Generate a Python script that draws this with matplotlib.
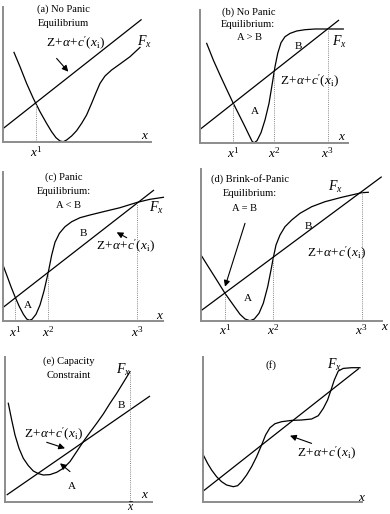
import matplotlib
matplotlib.use('Agg')
import matplotlib.pyplot as plt
import numpy as np

plt.rcParams['font.family'] = ['Liberation Serif', 'DejaVu Serif']
plt.rcParams['mathtext.fontset'] = 'custom'
plt.rcParams['mathtext.rm'] = 'Liberation Serif'
plt.rcParams['mathtext.it'] = 'Liberation Serif:italic'
plt.rcParams['mathtext.bf'] = 'Liberation Serif:bold'

# ---------------- data (schematic units) ----------------
# panel (a)
a_line_x = [0, 138.3]
a_line_y = [13.3, 122.3]
a_F_x = [10.7, 16.7, 23.3, 30, 36.7, 43.3, 48.3, 52.7, 56.7, 60, 63.3, 68.3, 73.3,
         78.3, 83.3, 88.3, 92.7, 96.7, 101.7, 108.3, 116.7, 126.7, 136.7]
a_F_y = [89.3, 75, 58.3, 43.3, 30, 18.3, 10, 4, 0.7, 0, 1.7, 5.7, 11,
         18.3, 26.7, 38.3, 49, 58.3, 65.7, 71.7, 77.7, 85, 94.3]
a_eq = [32.7]
a_eq_labels = ['$x^1$']

# panel (b)
b_line_x = [0, 139]
b_line_y = [13.3, 122.7]
b_F_x = [6.7, 13.3, 20, 26.7, 33.3, 40, 45, 49, 52.3, 54.3, 57, 61, 65, 69, 72.3, 75,
         77.7, 81, 85, 90, 96.7, 105, 115, 128.3, 143.3]
b_F_y = [99.3, 82.7, 67.7, 53.3, 39.3, 26, 16, 7.7, 1, 0, 2, 10, 22.7, 39.3, 59.3, 76,
         89.3, 100, 106, 109.3, 111.7, 113, 113.7, 113.7, 113.7]
b_eq = [33.3, 74, 127.7]
b_eq_labels = ['$x^1$', '$x^2$', '$x^3$']

# panel (c)
c_line_x = [0, 151.3]
c_line_y = [13.3, 131]
c_F_x = [0, 4, 8.3, 12.3, 16.7, 20.7, 24, 26.7, 29.3, 33.3, 37.3, 41.3, 45.7, 49, 52.3,
         56.7, 62.3, 69, 77.3, 87.3, 100.7, 117.3, 134.7, 147.3, 160.7]
c_F_y = [56.7, 46, 34.3, 24.3, 14.3, 6.7, 2, 0.7, 1.7, 6.7, 16, 30, 49.3, 66, 78.7,
         87.7, 94.3, 99.3, 103.3, 106, 109.3, 113.3, 118.7, 121.7, 123.7]
c_eq = [12.3, 45.7, 134.7]
c_eq_labels = ['$x^1$', '$x^2$', '$x^3$']

# panel (d)
d_line_x = [0, 180.7]
d_line_y = [10.3, 144.3]
d_F_x = [0, 7.3, 15.7, 24, 32.3, 39, 44, 49, 53.3, 58, 62.3, 66.7, 70, 72.3, 75, 79,
         84, 90.7, 99, 110.7, 124, 140.7, 160.7, 167.3]
d_F_y = [66, 54.3, 41, 27.7, 16, 6.7, 2, 0.3, 2, 7.7, 17.7, 34.3, 51, 63.3, 76, 86,
         94.3, 101, 107.7, 114.3, 119.3, 123.7, 128.3, 128.7]
d_eq = [24, 72.3, 160.7]
d_eq_labels = ['$x^1$', '$x^2$', '$x^3$']

# panel (e)
e_line_x = [1.7, 145]
e_line_y = [7.3, 106.3]
e_F_x = [3.3, 6.7, 10, 14, 18.3, 23.3, 28.3, 33.3, 38.3, 45, 51.7, 58.3, 65, 71.7,
         78.3, 85, 91.7, 98.3, 105, 111.7, 118.3, 125]
e_F_y = [99, 82.3, 67.3, 54, 44, 36.7, 31.3, 28.7, 27.3, 27.7, 30, 34, 40.7, 50.7,
         60.7, 70, 79, 88.3, 99, 109, 119.7, 130.7]
e_cap = [125]

# panel (f)
f_line_x = [0, 155.7]
f_line_y = [10.7, 133.3]
f_F_x = [0, 4.3, 8.3, 13.3, 18.3, 23.3, 30, 34.3, 38.3, 43.3, 48.3, 53.3, 58.3, 62.3,
         66.7, 71.7, 78.3, 88.3, 98.3, 108.3, 115, 120, 124.3, 127.7, 131, 135, 140,
         148.3, 156.7]
f_F_y = [46.7, 38.3, 31.7, 25, 20, 16.7, 15, 16, 20, 26.7, 35, 45, 56.7, 66.7,
         74, 78, 80, 81.3, 81.7, 82.7, 86, 93.3, 101.7, 111.7, 121.7, 130.7, 133.3,
         134, 134]

FORM = r"$\mathrm{Z}\!+\!\alpha\!+\!c'(x_{\mathrm{i}})$"
FX = r"$F_x$"

# ---------------- drawing ----------------
W, H = 390, 514
fig = plt.figure(figsize=(W / 100, H / 100), dpi=100)
fig.patch.set_facecolor('white')

AX_COL = '#8c8c8c'


def make_ax(ox, oy, xlen, ylen):
    ax = fig.add_axes([ox / W, 1 - oy / H, xlen / W, ylen / H])
    ax.set_xlim(0, xlen)
    ax.set_ylim(0, ylen)
    for s in ['top', 'right']:
        ax.spines[s].set_visible(False)
    for s in ['left', 'bottom']:
        ax.spines[s].set_color(AX_COL)
        ax.spines[s].set_linewidth(1.4)
    ax.set_xticks([])
    ax.set_yticks([])
    ax.patch.set_alpha(0)
    return ax


def curves(ax, lx, ly, fx, fy):
    ax.plot(lx, ly, color='black', lw=0.9, clip_on=False, solid_capstyle='butt')
    ax.plot(fx, fy, color='black', lw=0.9, clip_on=False)


def eqlines(ax, xs, lx, ly, labels, ly_lab=-11):
    for xe, lab in zip(xs, labels):
        yt = np.interp(xe, lx, ly)
        ax.plot([xe, xe], [0, yt], ls=(0, (1, 1.2)), color='#888888', lw=0.7)
        ax.text(xe, ly_lab, lab, ha='center', va='center', fontsize=9.5,
                clip_on=False)


def txt(ax, x, y, s, size=7.6, ha='center'):
    ax.text(x, y, s, ha=ha, va='center', fontsize=size, clip_on=False)


def arrow(ax, tail, head):
    ax.annotate('', xy=head, xytext=tail,
                arrowprops=dict(arrowstyle='-|>', color='black', lw=0.8,
                                mutation_scale=9, shrinkA=0, shrinkB=0))


# (a)
ax = make_ax(3.3, 141.7, 148, 135)
curves(ax, a_line_x, a_line_y, a_F_x, a_F_y)
eqlines(ax, a_eq, a_line_x, a_line_y, a_eq_labels)
txt(ax, 60, 132.3, '(a) No Panic')
txt(ax, 60, 117.7, 'Equilibrium')
txt(ax, 72.7, 98.3, FORM, size=9.5)
txt(ax, 140.7, 100, FX, size=10)
txt(ax, 141.7, 6, '$x$', size=9.5)
arrow(ax, (53.3, 83.3), (65, 70))

# (b)
ax = make_ax(200, 142.7, 147.7, 132.7)
curves(ax, b_line_x, b_line_y, b_F_x, b_F_y)
eqlines(ax, b_eq, b_line_x, b_line_y, b_eq_labels)
txt(ax, 48.3, 131, '(b) No Panic')
txt(ax, 48.3, 117.7, 'Equilibrium:')
txt(ax, 50, 105.3, 'A > B')
txt(ax, 98.3, 96, 'B', size=8)
txt(ax, 55, 31, 'A', size=8)
txt(ax, 110, 61, FORM, size=9.5)
txt(ax, 139, 101, FX, size=10)
txt(ax, 141.7, 6, '$x$', size=9.5)

# (c)
ax = make_ax(2.7, 321, 160.7, 149.3)
curves(ax, c_line_x, c_line_y, c_F_x, c_F_y)
eqlines(ax, c_eq, c_line_x, c_line_y, c_eq_labels)
txt(ax, 60.7, 144.3, '(c) Panic')
txt(ax, 60.7, 129.3, 'Equilibrium:')
txt(ax, 65.7, 115.3, 'A < B')
txt(ax, 80.7, 87.7, 'B', size=8)
txt(ax, 24.7, 15.3, 'A', size=8)
txt(ax, 123.3, 74.3, FORM, size=9.5)
txt(ax, 154, 112.7, FX, size=10)
txt(ax, 157.3, 5.3, '$x$', size=9.5)
arrow(ax, (124, 83.3), (114, 88.7))

# (d)
ax = make_ax(201, 321, 180.7, 152)
curves(ax, d_line_x, d_line_y, d_F_x, d_F_y)
eqlines(ax, d_eq, d_line_x, d_line_y, d_eq_labels, ly_lab=-9)
txt(ax, 49, 142, '(d) Brink-of-Panic')
txt(ax, 49, 127.7, 'Equilibrium:')
txt(ax, 44, 112.7, 'A = B')
txt(ax, 107.3, 94.3, 'B', size=8)
txt(ax, 47.3, 22.7, 'A', size=8)
txt(ax, 135.7, 67.7, FORM, size=9.5)
txt(ax, 134, 134.3, FX, size=10)
txt(ax, 184, -5.7, '$x$', size=9.5)
arrow(ax, (44, 97.7), (24, 34.3))

# (e)
ax = make_ax(5, 502.3, 146.7, 145.7)
curves(ax, e_line_x, e_line_y, e_F_x, e_F_y)
for xc in e_cap:
    yt = np.interp(xc, e_F_x, e_F_y)
    ax.plot([xc, xc], [0, yt], ls=(0, (1, 1.2)), color='#888888', lw=0.7)
    txt(ax, xc + 0.7, -5.8, r'$\bar{x}$', size=8.5)
txt(ax, 63.3, 140.7, '(e) Capacity')
txt(ax, 63.3, 126.7, 'Constraint')
txt(ax, 116.7, 97.3, 'B', size=8)
txt(ax, 66.7, 15.7, 'A', size=8)
txt(ax, 48.3, 68, FORM, size=9.5)
txt(ax, 118.3, 132.3, FX, size=10)
txt(ax, 140, 7.3, '$x$', size=9.5)
arrow(ax, (41.7, 60), (60, 54))
arrow(ax, (65, 30.7), (55, 39))

# (f)
ax = make_ax(203.3, 501.7, 158.3, 145)
curves(ax, f_line_x, f_line_y, f_F_x, f_F_y)
txt(ax, 67.7, 136.7, '(f)', size=8)
txt(ax, 131, 136.7, FX, size=10)
txt(ax, 123.3, 48.3, FORM, size=9.5)
txt(ax, 159, 3.3, '$x$', size=9.5)
arrow(ax, (108.3, 58.3), (86.7, 66))

fig.savefig('out.png', dpi=100, facecolor='white')
